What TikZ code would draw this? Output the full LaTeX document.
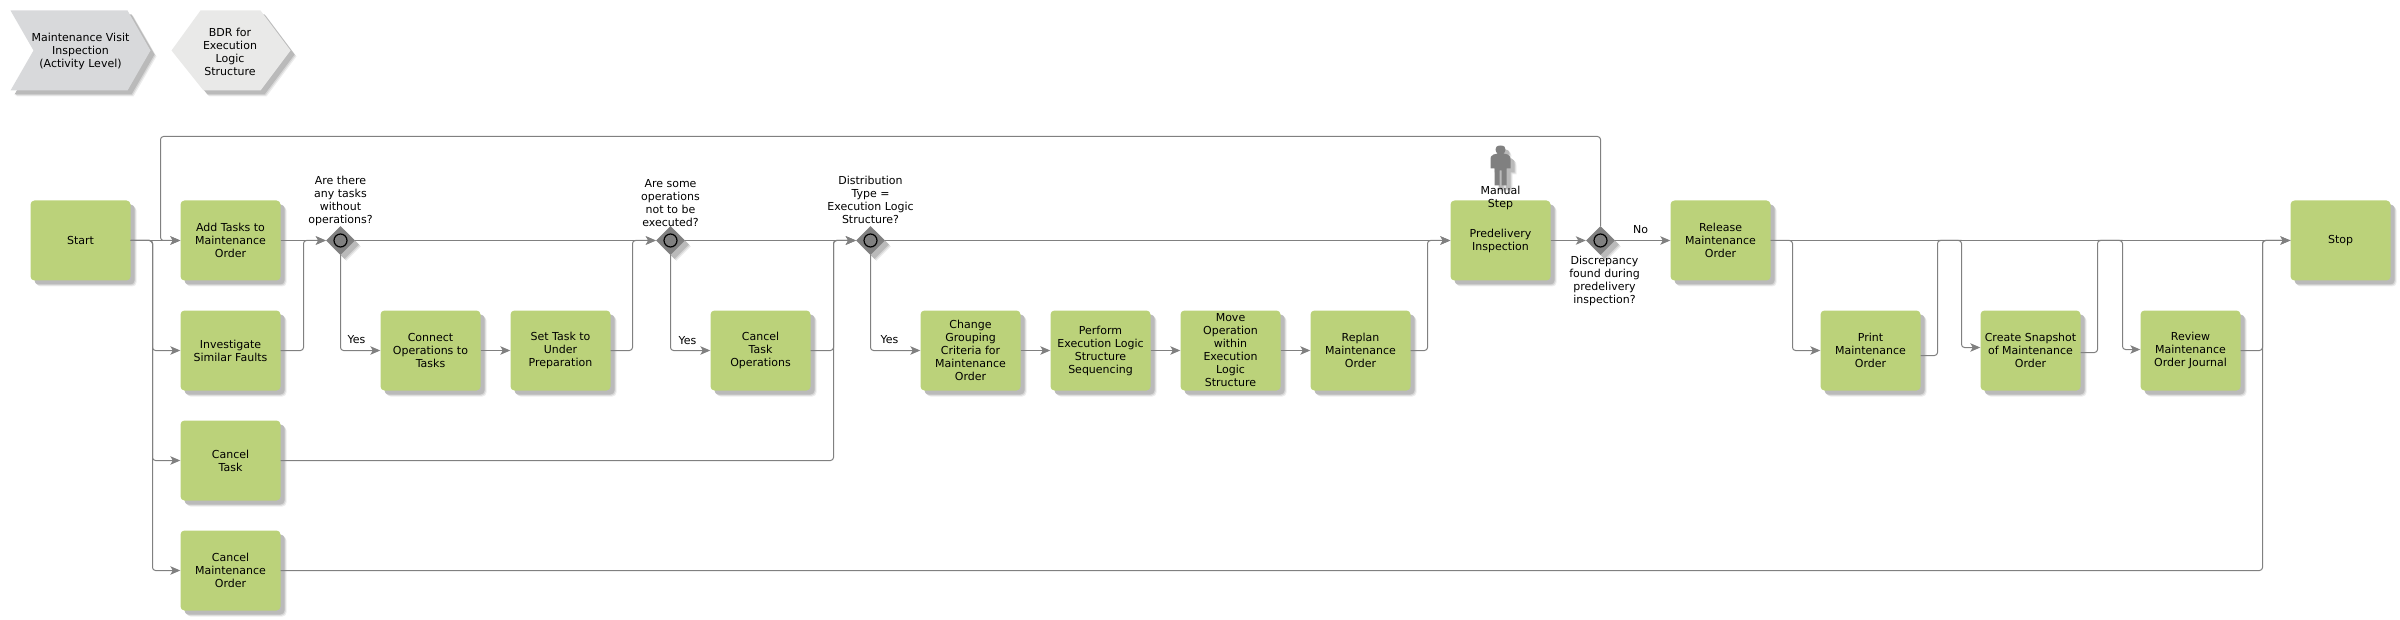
\documentclass[tikz,border=0pt]{standalone}
\usepackage{fontspec}
\setmainfont{DejaVu Sans}
\usetikzlibrary{arrows.meta,shapes.geometric,shadows}
\definecolor{boxgreen}{HTML}{BBD27A}
\definecolor{linegray}{HTML}{808080}
\definecolor{chevgray}{HTML}{D8D9DB}
\definecolor{hexgray}{HTML}{E9E9E8}
\tikzset{
  softshadow/.style={general shadow={shadow xshift=6pt,shadow yshift=-6pt,fill=black!7},
                     general shadow={shadow xshift=5pt,shadow yshift=-5pt,fill=black!16},
                     general shadow={shadow xshift=4pt,shadow yshift=-4pt,fill=black!27}},
  txt/.style={font=\fontsize{11}{13}\selectfont,align=center,inner sep=0pt,text=black},
  stepbox/.style={txt,softshadow,fill=boxgreen,rounded corners=4pt,minimum width=100pt,minimum height=80pt},
  gate/.style={diamond,softshadow,fill=linegray,minimum width=29pt,minimum height=29pt,inner sep=0pt},
  conn/.style={draw=linegray,line width=1pt,rounded corners=3pt},
  arr/.style={conn,-{Stealth[length=10pt,width=8.5pt,inset=2.5pt,fill=linegray]}},
  ring/.style={draw=black,fill=linegray,line width=1.2pt},
}
\begin{document}
\begin{tikzpicture}[x=1pt,y=-1pt]
\useasboundingbox (-0.5,-0.5) rectangle (2399.5,619.5);
% interface shapes
\fill[chevgray,softshadow] (10,10) -- (127,10) -- (150,50) -- (127,90) -- (10,90) -- (33,50) -- cycle;
\fill[hexgray,softshadow] (171,50) -- (200,10) -- (260,10) -- (290,50) -- (260,90) -- (203,90) -- cycle;
\node[txt] (chev) at (80,51) {Maintenance Visit\\Inspection\\(Activity Level)};
\node[txt] (hexa) at (229.5,51) {BDR for\\Execution\\Logic\\Structure};
% steps
\node[stepbox] (start) at (80,240) {Start};
\node[stepbox] (add) at (230,240) {Add Tasks to\\Maintenance\\Order};
\node[stepbox] (invest) at (230,350) {Investigate\\Similar Faults};
\node[stepbox] (canceltask) at (230,460) {Cancel\\Task};
\node[stepbox] (cancelmo) at (230,570) {Cancel\\Maintenance\\Order};
\node[stepbox] (connect) at (430,350) {Connect\\Operations to\\Tasks};
\node[stepbox] (settask) at (560,350) {Set Task to\\Under\\Preparation};
\node[stepbox] (cancelops) at (760,350) {Cancel\\Task\\Operations};
\node[stepbox] (change) at (970,350) {Change\\Grouping\\Criteria for\\Maintenance\\Order};
\node[stepbox] (perform) at (1100,350) {Perform\\Execution Logic\\Structure\\Sequencing};
\node[stepbox] (move) at (1230,350) {Move\\Operation\\within\\Execution\\Logic\\Structure};
\node[stepbox] (replan) at (1360,350) {Replan\\Maintenance\\Order};
\node[stepbox] (pre) at (1500,240) {Predelivery\\Inspection};
\node[stepbox] (release) at (1720,240) {Release\\Maintenance\\Order};
\node[stepbox] (print) at (1870,350) {Print\\Maintenance\\Order};
\node[stepbox] (create) at (2030,350) {Create Snapshot\\of Maintenance\\Order};
\node[stepbox] (review) at (2190,350) {Review\\Maintenance\\Order Journal};
\node[stepbox] (stop) at (2340,240) {Stop};
% gateways
\node[gate] (g1) at (340,240) {};
\node[gate] (g2) at (670,240) {};
\node[gate] (g3) at (870,240) {};
\node[gate] (g4) at (1600,240) {};
\foreach \g in {g1,g2,g3,g4} \draw[ring] (\g.center) circle (6.5);
% manual step figure
\fill[linegray,softshadow] (1500,145) .. controls (1504,145) and (1505,147) .. (1505,149)
  .. controls (1505,151) and (1504,152) .. (1503,153) -- (1507,154)
  .. controls (1510,155) and (1510,157) .. (1510,159) -- (1510,168) -- (1506,168) -- (1506,185)
  -- (1501,185) -- (1501,170) -- (1499,170) -- (1499,185) -- (1494,185) -- (1494,168) -- (1490,168)
  -- (1490,159) .. controls (1490,157) and (1490,155) .. (1493,154) -- (1497,153)
  .. controls (1496,152) and (1495,151) .. (1495,149) .. controls (1495,147) and (1496,145) .. (1500,145) -- cycle;
% routing points
\coordinate (vstart) at (152,300);
\coordinate (loop) at (160,136);
\coordinate (j1) at (303,300);
\coordinate (j2) at (632,300);
\coordinate (j3) at (833,300);
\coordinate (j4) at (1427,300);
\coordinate (r1) at (1792,300);
\coordinate (j5) at (1937,300);
\coordinate (r2) at (1961,300);
\coordinate (j6) at (2097,300);
\coordinate (r3) at (2122,300);
\coordinate (j7) at (2262,300);
\coordinate (createin) at ([yshift=3pt]create.west);
\coordinate (reviewin) at ([yshift=1pt]review.west);
% connectors
\draw[arr] (start.east) -- (add.west);
\draw[arr] (start.east) -| (vstart |- invest) -- (invest.west);
\draw[arr] (start.east) -| (vstart |- canceltask) -- (canceltask.west);
\draw[arr] (start.east) -| (vstart |- cancelmo) -- (cancelmo.west);
\draw[arr] (g4.north) |- (loop) |- (add.west);
\draw[arr] (add.east) -- (g1.west);
\draw[arr] (invest.east) -| (j1 |- g1) -- (g1.west);
\draw[arr] (g1.east) -- (g2.west);
\draw[arr] (g1.south) |- (connect.west);
\draw[arr] (connect) -- (settask);
\draw[arr] (settask.east) -| (j2 |- g2) -- (g2.west);
\draw[arr] (g2.east) -- (g3.west);
\draw[arr] (g2.south) |- (cancelops.west);
\draw[arr] (cancelops.east) -| (j3 |- g3) -- (g3.west);
\draw[arr] (canceltask.east) -| (j3 |- g3) -- (g3.west);
\draw[arr] (g3.east) -- (pre.west);
\draw[arr] (g3.south) |- (change.west);
\draw[arr] (change) -- (perform);
\draw[arr] (perform) -- (move);
\draw[arr] (move) -- (replan);
\draw[arr] (replan.east) -| (j4 |- pre) -- (pre.west);
\draw[arr] (pre.east) -- (g4.west);
\draw[arr] (g4.east) -- (release.west);
\draw[arr] (release.east) -- (stop.west);
\draw[arr] (release.east) -| (r1 |- print) -- (print.west);
\draw[conn] ([yshift=-5pt]print.east) -| (j5 |- stop) -- (r2 |- stop);
\draw[arr] (j5 |- stop) -| (r2 |- createin) -- (createin);
\draw[conn] ([yshift=-2pt]create.east) -| (j6 |- stop) -- (r3 |- stop);
\draw[arr] (j6 |- stop) -| (r3 |- reviewin) -- (reviewin);
\draw[conn] (review.east) -| (j7 |- stop) -- (stop.west);
\draw[arr] (cancelmo.east) -| (j7 |- stop) -- (stop.west);
% labels
\node[txt] (q1) at (340,200) {Are there\\any tasks\\without\\operations?};
\node[txt] (q2) at (670,203) {Are some\\operations\\not to be\\executed?};
\node[txt] (q3) at (870,199) {Distribution\\Type =\\Execution Logic\\Structure?};
\node[txt] (q4) at (1604,280) {Discrepancy\\found during\\predelivery\\inspection?};
\node[txt] (manual) at (1500,197.5) {Manual\\Step};
\node[txt] (y1) at (356,339) {Yes};
\node[txt] (y2) at (687,340) {Yes};
\node[txt] (y3) at (889,339) {Yes};
\node[txt] (no) at (1640,229) {No};
\end{tikzpicture}
\end{document}
